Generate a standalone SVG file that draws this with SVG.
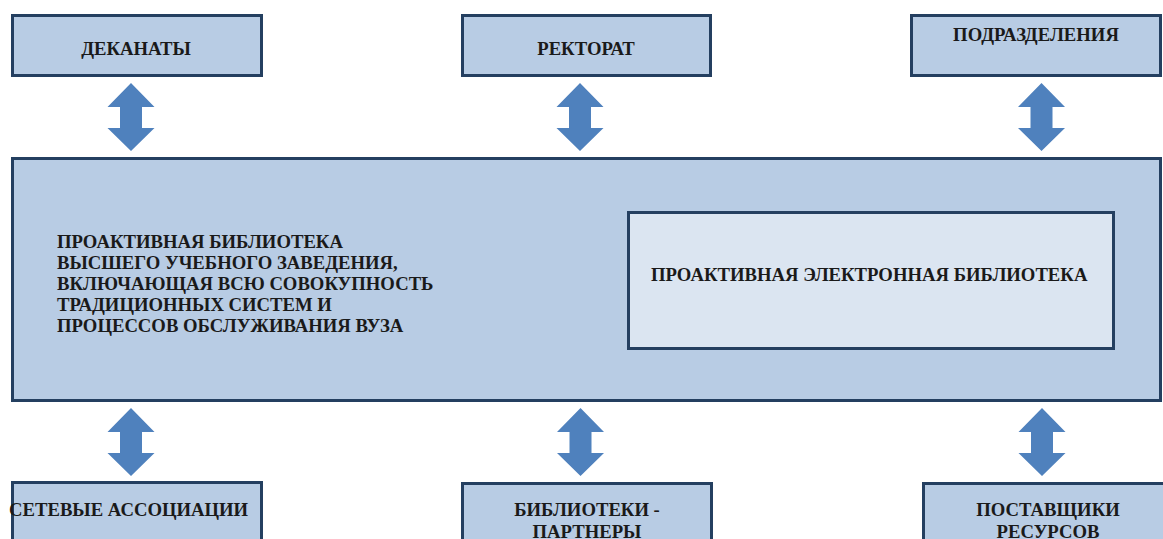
<svg xmlns="http://www.w3.org/2000/svg" width="1163" height="539" viewBox="0 0 1163 539">
<defs>
<style>
.box{fill:#b8cce4;stroke:#243f60;stroke-width:3}
.inner{fill:#dbe5f1;stroke:#243f60;stroke-width:3}
.arr{fill:#4f81bd}
text{font-family:"Liberation Serif","Times New Roman",serif;font-weight:bold;font-size:18.7px;fill:#1a1a1a}
.c{text-anchor:middle}
</style>
</defs>
<rect width="1163" height="539" fill="#ffffff"/>
<g id="connectors">
<path class="arr" d="M131,83 L154.5,107 L142,107 L142,128 L154.5,128 L131,151 L107.5,128 L120,128 L120,107 L107.5,107 Z"/>
<path class="arr" d="M580,83 L603.5,107 L591,107 L591,128 L603.5,128 L580,151 L556.5,128 L569,128 L569,107 L556.5,107 Z"/>
<path class="arr" d="M1041.5,83 L1065,107 L1052.5,107 L1052.5,128 L1065,128 L1041.5,151 L1018,128 L1030.5,128 L1030.5,107 L1018,107 Z"/>
<path class="arr" d="M131,408 L154.5,432 L142,432 L142,453 L154.5,453 L131,476 L107.5,453 L120,453 L120,432 L107.5,432 Z"/>
<path class="arr" d="M580.5,408 L604,432 L591.5,432 L591.5,453 L604,453 L580.5,476 L557,453 L569.5,453 L569.5,432 L557,432 Z"/>
<path class="arr" d="M1042,408 L1065.5,432 L1053,432 L1053,453 L1065.5,453 L1042,476 L1018.5,453 L1031,453 L1031,432 L1018.5,432 Z"/>
</g>
<g id="dekanaty"><rect class="box" x="12.5" y="15.5" width="249" height="60"/><text class="c" x="136" y="55">ДЕКАНАТЫ</text></g>
<g id="rektorat"><rect class="box" x="462.5" y="15.5" width="248" height="60"/><text class="c" x="586" y="55">РЕКТОРАТ</text></g>
<g id="podrazdeleniya"><rect class="box" x="911.5" y="15.5" width="249" height="60"/><text class="c" x="1036" y="41">ПОДРАЗДЕЛЕНИЯ</text></g>
<g id="main"><rect class="box" x="12.5" y="158.5" width="1148" height="242"/>
<text x="57" y="248">ПРОАКТИВНАЯ БИБЛИОТЕКА</text>
<text x="57" y="269">ВЫСШЕГО УЧЕБНОГО ЗАВЕДЕНИЯ,</text>
<text x="57" y="290">ВКЛЮЧАЮЩАЯ ВСЮ СОВОКУПНОСТЬ</text>
<text x="57" y="311">ТРАДИЦИОННЫХ СИСТЕМ И</text>
<text x="57" y="332">ПРОЦЕССОВ ОБСЛУЖИВАНИЯ ВУЗА</text>
</g>
<g id="electronic"><rect class="inner" x="628.5" y="212.5" width="485" height="136"/><text x="651" y="281">ПРОАКТИВНАЯ ЭЛЕКТРОННАЯ БИБЛИОТЕКА</text></g>
<g id="setevye"><rect class="box" x="12.5" y="482.5" width="249" height="70"/><text x="9" y="516">СЕТЕВЫЕ АССОЦИАЦИИ</text></g>
<g id="partnery"><rect class="box" x="462.5" y="483.5" width="249" height="70"/><text class="c" x="587" y="516">БИБЛИОТЕКИ -</text><text class="c" x="587" y="538">ПАРТНЕРЫ</text></g>
<g id="postavshiki"><rect class="box" x="923.5" y="483.5" width="249" height="70"/><text class="c" x="1048" y="516">ПОСТАВЩИКИ</text><text class="c" x="1048" y="538">РЕСУРСОВ</text></g>
</svg>
